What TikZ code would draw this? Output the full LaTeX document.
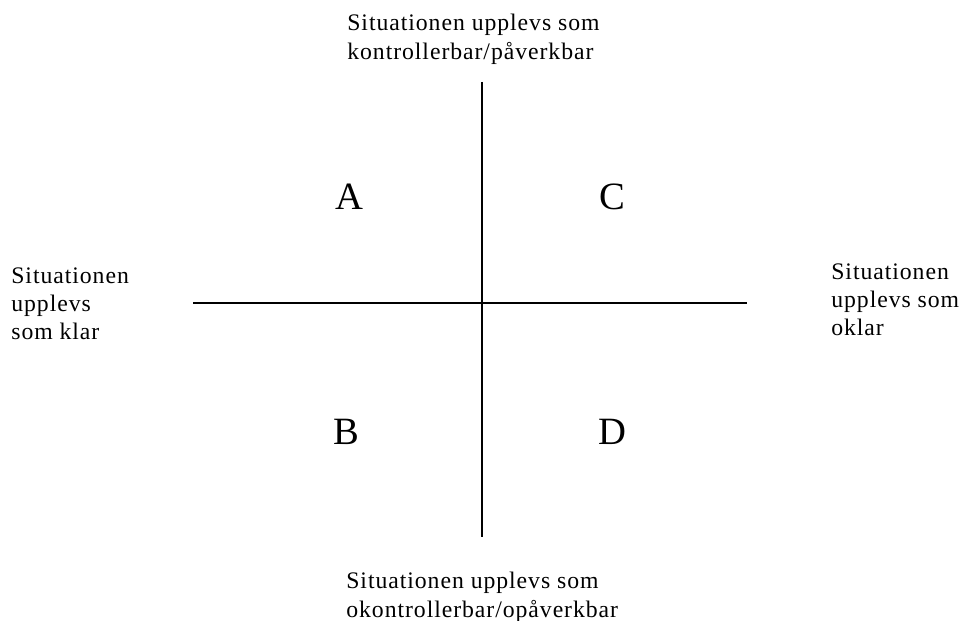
\documentclass[tikz,border=0pt]{standalone}
\usepackage{fontspec}
\setmainfont{Liberation Serif}
\newfontfamily\glesfont[LetterSpace=4]{Liberation Serif}
\usetikzlibrary{positioning}

\begin{document}
\begin{tikzpicture}[
      x=0.02cm, y=-0.02cm,
      axel/.style={line width=0.8pt, black},
      etikett/.style={font=\glesfont\fontsize{13.5}{16.2}\selectfont,
                      align=left, anchor=north west, inner sep=0pt},
      ruta/.style={font=\fontsize{22}{24}\selectfont, anchor=base, inner sep=0pt},
    ]
    \useasboundingbox (0,0) rectangle (965,621);

    % axes
    \coordinate (topp)    at (482,82);
    \coordinate (botten)  at (482,537);
    \coordinate (vanster) at (193,303);
    \coordinate (hoger)   at (747,303);
    \draw[axel] (topp) -- (botten);
    \draw[axel] (vanster) -- (hoger);

    % quadrants
    \node[ruta] (a) at (349,210) {A};
    \node[ruta] (c) at (612,210) {C};
    \node[ruta] (b) at (346,445) {B};
    \node[ruta] (d) at (612,445) {D};

    % axis texts
    \node[etikett] (kontroll)  at (347,14)  {Situationen upplevs som\\kontrollerbar/påverkbar};
    \node[etikett] (okontroll) at (346,572) {Situationen upplevs som\\okontrollerbar/opåverkbar};
    \node[etikett] (klar)      at (11,267)  {Situationen\\upplevs\\som klar};
    \node[etikett] (oklar)     at (831,263) {Situationen\\upplevs som\\oklar};
  \end{tikzpicture}
\end{document}
